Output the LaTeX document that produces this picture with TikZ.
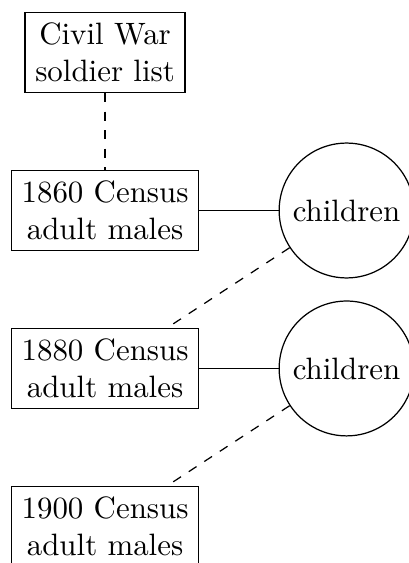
\documentclass[tikz,border=0pt]{standalone}
\usetikzlibrary{positioning}

\begin{document}
\begin{tikzpicture}[
		node distance=8.75mm and 9mm,
		census/.style={rectangle, draw, align=center},
		kids/.style={circle, draw},
	]

	\useasboundingbox (-34pt,17pt) rectangle (98.1pt,-165.2pt);

	\node[census] (soldiers) {Civil War\\soldier list};
	\node[census, below=of soldiers] (c1860) {1860 Census\\adult males};
	\node[kids, right=of c1860] (kids1860) {children};
	\node[census, below=of c1860] (c1880) {1880 Census\\adult males};
	\node[kids, right=of c1880] (kids1880) {children};
	\node[census, below=of c1880] (c1900) {1900 Census\\adult males};

	\foreach \i/\j in {c1860/kids1860, c1880/kids1880}
		\draw (\i) -- (\j);

	\foreach \i/\j in {soldiers/c1860, kids1860/c1880, kids1880/c1900}
		\draw[dashed] (\i) -- (\j);

\end{tikzpicture}
\end{document}
